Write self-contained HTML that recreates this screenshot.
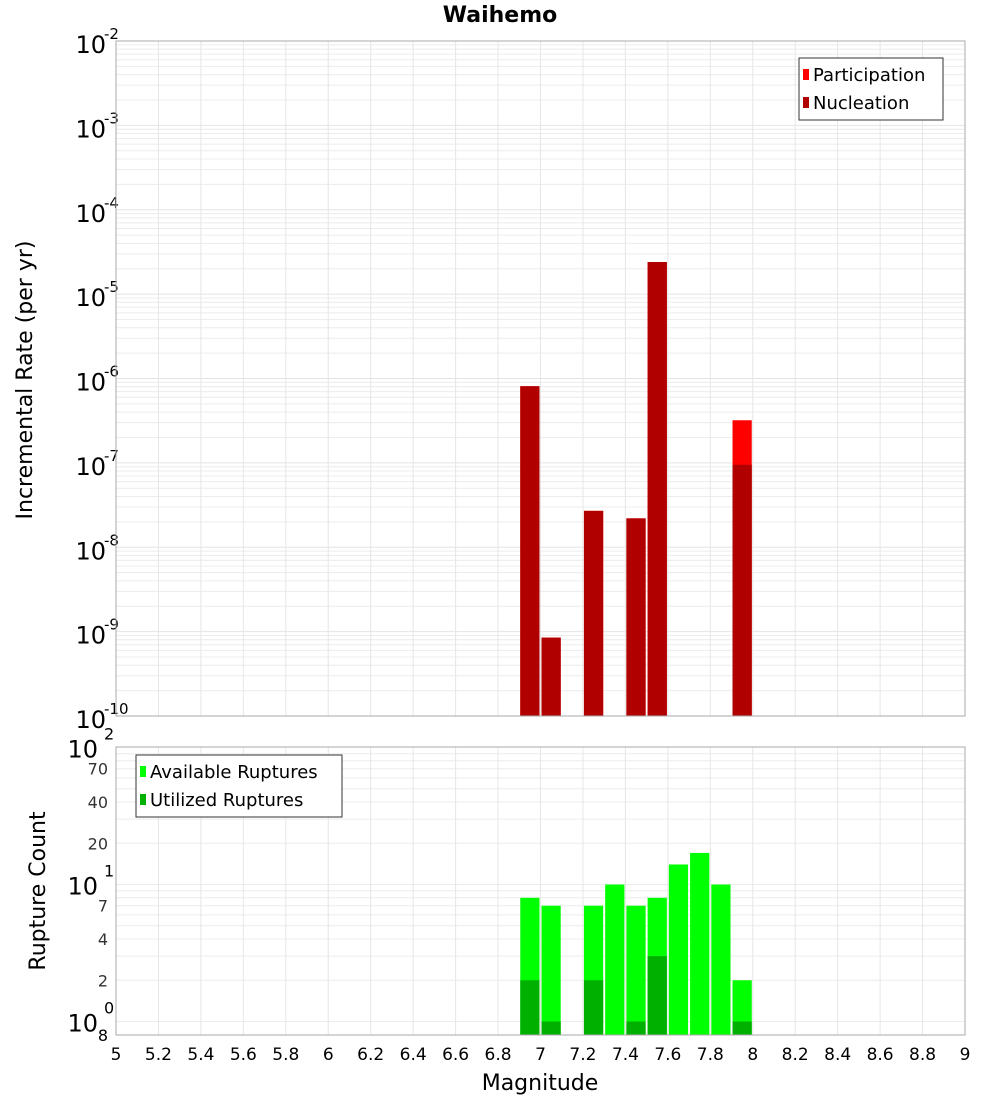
<!DOCTYPE html>
<html><head><meta charset="utf-8"><style>
body{margin:0;background:#fff;font-family:"Liberation Sans","DejaVu Sans",sans-serif}
svg text{font-family:"DejaVu Sans","Liberation Sans",sans-serif}
</style></head><body>
<svg id="c" width="1000" height="1100" xmlns="http://www.w3.org/2000/svg">
<text x="500" y="22" text-anchor="middle" font-size="22" font-weight="bold">Waihemo</text>
<text x="32" y="380" text-anchor="middle" font-size="22" transform="rotate(-90 32 380)">Incremental Rate (per yr)</text>
<text x="45" y="891" text-anchor="middle" font-size="22" transform="rotate(-90 45 891)">Rupture Count</text>
<text x="540" y="1090" text-anchor="middle" font-size="22">Magnitude</text>
</svg>
<script>
const mags = [6.95, 7.05, 7.25, 7.45, 7.55, 7.95];
const participation = [8.1e-7, 8.5e-10, 2.7e-8, 2.2e-8, 2.4e-5, 3.2e-7];
const nucleation = [8.1e-7, 8.5e-10, 2.7e-8, 2.2e-8, 2.4e-5, 9.5e-8];
const countMags = [6.95, 7.05, 7.25, 7.35, 7.45, 7.55, 7.65, 7.75, 7.85, 7.95];
const available = [8, 7, 7, 10, 7, 8, 14, 17, 10, 2];
const utilized = [2, 1, 2, 0, 1, 3, 0, 0, 0, 1];
const xTicks = [5,5.2,5.4,5.6,5.8,6,6.2,6.4,6.6,6.8,7,7.2,7.4,7.6,7.8,8,8.2,8.4,8.6,8.8,9];
const topDecades = [-10,-9,-8,-7,-6,-5,-4,-3,-2];

const svg = document.getElementById('c');
const NS = 'http://www.w3.org/2000/svg';
function mk(tag, attrs, parent){const e=document.createElementNS(NS,tag);for(const k in attrs)e.setAttribute(k,attrs[k]);(parent||svg).appendChild(e);return e;}
const L=116,R=965;
const x = m => L + (m-5)/4*(R-L);
const T1=41,B1=716;
const y1 = v => T1 + (-2 - Math.log10(v))/8*(B1-T1);
const T2=747,B2=1035,DEC=137,Y0=1021.5;
const y2 = v => Y0 - Math.log10(v)*DEC;
const bw = (x(5.1)-x(5))-2;

// top panel grid
for(let d=-10; d<-2; d++){
  for(let k=2;k<=9;k++){const yy=y1(k*Math.pow(10,d));
    const g=mk('line',{x1:L,x2:R,y1:yy,y2:yy,stroke:'#ececec','stroke-width':1});
    
    }
}
for(const d of topDecades){const yy=y1(Math.pow(10,d));
  const g=mk('line',{x1:L,x2:R,y1:yy,y2:yy,stroke:'#e4e4e4','stroke-width':1});
  
  
  const t=mk('text',{x:106,y:yy+12,'text-anchor':'end','font-size':24});
  
  
  t.textContent='10';
  const s=mk('text',{x:104,y:yy-2,'font-size':15});
  
  
  s.textContent=String(d);
}
// bottom grid
const bTicks=[1,2,4,7,10,20,40,70,100];
for(let d=0; d<2; d++){for(let k=1;k<=9;k++){const yy=y2(k*Math.pow(10,d));
  const g=mk('line',{x1:L,x2:R,y1:yy,y2:yy,stroke:'#ececec','stroke-width':1});
  
  }}
for(const v of bTicks){const yy=y2(v);
  if(v===1||v===10||v===100){
    const t=mk('text',{x:98,y:yy+10,'text-anchor':'end','font-size':24});
    
    
    t.textContent='10';
    const s=mk('text',{x:104,y:yy-8,'font-size':16});
    
    
    s.textContent=String(Math.round(Math.log10(v)));
  } else {
    const t=mk('text',{x:108,y:yy+6,'text-anchor':'end','font-size':16,fill:'#333'});
    
    
    t.textContent=String(v);
  }
}
const t8=mk('text',{x:108,y:1041,'text-anchor':'end','font-size':16});


t8.textContent='8';
// vertical grids + x ticks
for(const m of xTicks){const xx=x(m);
  const g1=mk('line',{x1:xx,x2:xx,y1:T1,y2:B1,stroke:'#e6e6e6'});
  
  
  const g2=mk('line',{x1:xx,x2:xx,y1:T2,y2:B2,stroke:'#e6e6e6'});
  
  
  const t=mk('text',{x:xx,y:1060,'text-anchor':'middle','font-size':17});
  
  
  t.textContent=String(m);
}
// top bars
mags.forEach((m,i)=>{
  const x0=x(m-0.05)+1;
  const p=mk('rect',{x:x0,y:y1(participation[i]),width:bw,height:B1-y1(participation[i]),fill:'#ff0000'});
  
  
  const n=mk('rect',{x:x0,y:y1(nucleation[i]),width:bw,height:B1-y1(nucleation[i]),fill:'#b00000'});
  
  
});
// bottom bars
countMags.forEach((m,i)=>{
  const x0=x(m-0.05)+1;
  if(available[i]>0){const a=mk('rect',{x:x0,y:y2(available[i]),width:bw,height:B2-y2(available[i]),fill:'#00ff00'});
    
    }
  if(utilized[i]>0){const u=mk('rect',{x:x0,y:y2(utilized[i]),width:bw,height:B2-y2(utilized[i]),fill:'#00b000'});
    
    }
});
// frames
const f1=mk('rect',{x:L,y:T1,width:R-L,height:B1-T1,fill:'none',stroke:'#aaa'});


const f2=mk('rect',{x:L,y:T2,width:R-L,height:B2-T2,fill:'none',stroke:'#aaa'});


// legends
function legend(lx,ly,w,items,name){
  const g=mk('g',{});
  
  
  mk('rect',{x:lx,y:ly,width:w,height:items.length*28+6,fill:'#fff',stroke:'#333'},g);
  items.forEach((it,i)=>{
    mk('rect',{x:lx+4,y:ly+11+i*28,width:6,height:11,fill:it[1]},g);
    const t=mk('text',{x:lx+14,y:ly+23+i*28,'font-size':18},g);
    
    
    t.textContent=it[0];
  });
}
legend(799,58,144,[['Participation','#ff0000'],['Nucleation','#b00000']],'top-legend');
legend(136,755,206,[['Available Ruptures','#00ff00'],['Utilized Ruptures','#00b000']],'bottom-legend');
</script>
</body></html>
